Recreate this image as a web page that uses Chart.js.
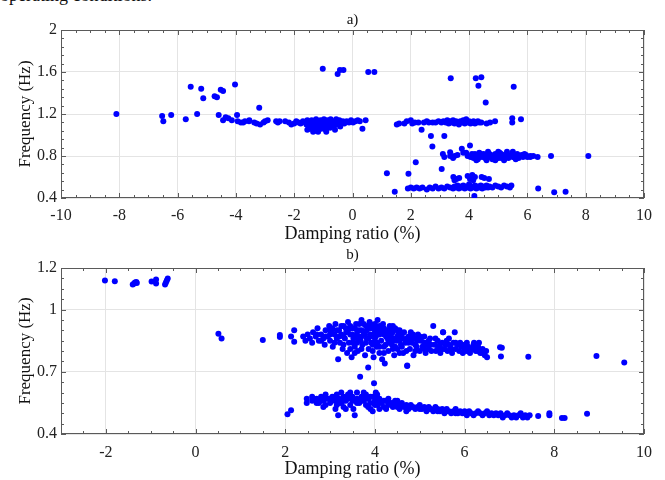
<!DOCTYPE html>
<html lang="en">
<head>
  <meta charset="UTF-8">
  <title>Damping ratio vs frequency</title>
  <script src="https://cdn.jsdelivr.net/npm/chart.js"></script>
  <style>
    body { margin: 0; background: #fff; font-family: "Liberation Serif", serif; }
    #wrap { position: relative; width: 665px; height: 480px; overflow: hidden; }
    #wrap canvas { position: absolute; left: 0; }
    #caption { position: absolute; left: 0; top: -14px; font-size: 18px; line-height: 18px; color: #111; white-space: nowrap; }
  </style>
</head>
<body>
  <div id="wrap">
    <div id="caption">operating conditions.</div>
    <canvas id="chartA" width="665" height="245" style="top:0"></canvas>
    <canvas id="chartB" width="665" height="235" style="top:245px"></canvas>
  </div>

  <script>
    // tick labels
    const xTicksA = [-10, -8, -6, -4, -2, 0, 2, 4, 6, 8, 10];
    const yTicksA = [0.4, 0.8, 1.2, 1.6, 2];
    const xTicksB = [-2, 0, 2, 4, 6, 8, 10];
    const yTicksB = [0.4, 0.7, 1, 1.2];

    // ---- panel a) : [damping %, frequency Hz]
    const ptsA_left = [
      [-8.1,1.20],[-6.53,1.18],[-6.49,1.13],[-6.22,1.19],[-5.72,1.15],[-5.55,1.46],[-5.33,1.20],
      [-5.19,1.44],[-5.12,1.35],[-4.73,1.37],[-4.65,1.36],[-4.59,1.19],[-4.52,1.43],[-4.44,1.42],
      [-4.44,1.14],[-4.35,1.17],[-4.26,1.16],[-4.14,1.14],[-4.03,1.48],[-3.96,1.19],[-3.94,1.13],
      [-3.83,1.12],[-3.75,1.12],[-3.54,1.14],[-3.37,1.12],[-3.2,1.26]
    ];
    const ptsA_band112 = [
      [-3.69,1.13],[-3.55,1.13],[-3.29,1.11],[-3.17,1.10],[-3.05,1.12],[-3.0,1.13],[-2.91,1.14],
      [-2.62,1.13],[-2.56,1.12],[-2.5,1.13],[-2.31,1.13],[-2.18,1.12],[-2.1,1.10],[-2.0,1.11],
      [-1.93,1.13],[-1.85,1.12],[-1.78,1.11],[-1.7,1.13],
      [-1.62,1.12],[-1.58,1.10],[-1.55,1.14],[-1.5,1.08],[-1.48,1.12],[-1.45,1.06],[-1.42,1.10],
      [-1.4,1.14],[-1.36,1.12],[-1.33,1.05],[-1.3,1.09],[-1.28,1.13],[-1.25,1.15],[-1.22,1.11],
      [-1.2,1.07],[-1.18,1.03],[-1.15,1.12],[-1.12,1.09],[-1.1,1.14],[-1.07,1.06],[-1.05,1.11],
      [-1.02,1.13],[-1.0,1.08],[-0.98,1.15],[-0.95,1.10],[-0.92,1.05],[-0.9,1.12],[-0.87,1.14],
      [-0.85,1.08],[-0.82,1.11],[-0.8,1.13],[-0.77,1.07],[-0.75,1.15],[-0.72,1.10],[-0.7,1.12],
      [-0.66,1.09],[-0.63,1.13],[-0.6,1.11],[-0.56,1.15],[-0.53,1.10],[-0.5,1.12],[-0.45,1.14],
      [-0.42,1.08],[-0.38,1.12],[-0.33,1.13],[-0.28,1.11],[-0.2,1.13],[-0.12,1.12],[-0.05,1.14],
      [0.02,1.12],[0.1,1.13],[0.18,1.14],[0.25,1.13],[0.34,1.06],[0.45,1.14],
      [-1.35,1.03],[-1.25,1.04],[-0.9,1.03],[-0.6,1.05],[-1.55,1.05]
    ];
    const ptsA_top = [
      [-1.02,1.63],[-0.51,1.58],[-0.43,1.62],[-0.31,1.62],[0.54,1.6],[0.75,1.6],[3.37,1.54],
      [4.23,1.54],[4.42,1.55],[4.32,1.47],[5.53,1.46],[4.57,1.31]
    ];
    const ptsA_right112 = [
      [1.52,1.10],[1.6,1.11],[1.78,1.11],[1.86,1.13],[2.0,1.14],[2.05,1.11],[2.14,1.12],[2.26,1.12],
      [2.37,1.05],[2.45,1.12],[2.55,1.13],[2.62,1.12],[2.69,0.99],[2.75,1.12],[2.85,1.12],[2.95,1.13],
      [3.05,1.12],[3.15,0.99],[3.12,1.13],[3.2,1.12],[3.25,1.14],[3.3,1.11],[3.35,1.13],[3.4,1.12],
      [3.45,1.14],[3.5,1.11],[3.55,1.13],[3.6,1.12],[3.65,1.10],[3.7,1.13],[3.75,1.12],[3.8,1.14],
      [3.85,1.11],[3.9,1.15],[3.95,1.12],[4.0,1.13],[4.05,1.11],[4.1,1.12],[4.15,1.13],[4.2,1.11],
      [4.25,1.12],[4.3,1.13],[4.35,1.12],[4.42,1.12],[4.6,1.11],[4.72,1.12],[4.89,1.13],
      [5.48,1.16],[5.48,1.12],[5.78,1.15]
    ];
    const ptsA_band080 = [
      [2.74,0.89],[3.06,0.676],[3.1,0.82],[3.15,0.79],[3.35,0.835],[3.35,0.80],[3.5,0.80],[3.6,0.81],
      [3.75,0.87],[3.8,0.83],[3.95,0.80],[4.03,0.90],[4.05,0.79],[4.1,0.82],[4.15,0.78],[4.2,0.80],
      [4.25,0.81],[4.3,0.77],[4.35,0.83],[4.4,0.79],[4.45,0.80],[4.5,0.82],[4.55,0.78],[4.6,0.80],
      [4.65,0.84],[4.7,0.79],[4.75,0.81],[4.8,0.77],[4.85,0.80],[4.9,0.82],[4.95,0.79],[5.0,0.80],
      [5.05,0.83],[5.1,0.78],[5.15,0.81],[5.2,0.79],[5.25,0.80],[5.3,0.82],[5.35,0.78],[5.4,0.80],
      [5.45,0.81],[5.5,0.84],[5.55,0.79],[5.6,0.80],[5.65,0.82],[5.7,0.78],[5.75,0.80],[5.8,0.81],
      [5.85,0.79],[5.9,0.80],[5.95,0.81],[6.0,0.79],[6.1,0.80],[6.2,0.80],[6.35,0.79],[6.81,0.80],
      [8.09,0.80],[4.6,0.76],[4.9,0.76],[5.2,0.76],[5.6,0.77],[4.25,0.76],[5.0,0.84],[5.3,0.84],
      [4.2,0.82],[4.4,0.82],[4.5,0.79],[4.7,0.82],[4.8,0.80],[5.0,0.78],[5.1,0.82],[5.3,0.80],
      [5.5,0.79],[5.7,0.80],[5.9,0.82],[6.1,0.79],[3.45,0.78],[3.9,0.83]
    ];
    const ptsA_band060 = [
      [3.46,0.60],[3.57,0.58],[3.66,0.59],[3.95,0.61],[4.03,0.58],[4.11,0.62],[4.14,0.57],
      [4.43,0.60],[4.52,0.59],[4.68,0.58],[3.5,0.57],[4.2,0.60]
    ];
    const ptsA_band050 = [
      [1.18,0.635],[1.45,0.46],[1.92,0.63],[2.17,0.74],[1.9,0.49],[2.0,0.50],[2.1,0.49],[2.2,0.50],
      [2.3,0.49],[2.4,0.50],[2.55,0.48],[2.65,0.50],[2.75,0.49],[2.85,0.51],[2.95,0.49],[3.05,0.50],
      [3.15,0.49],[3.25,0.51],[3.35,0.50],[3.45,0.49],[3.5,0.51],[3.55,0.50],[3.6,0.52],[3.65,0.49],
      [3.7,0.51],[3.75,0.50],[3.8,0.52],[3.85,0.49],[3.9,0.51],[3.95,0.50],[4.0,0.53],[4.05,0.49],
      [4.1,0.51],[4.15,0.50],[4.18,0.42],[4.2,0.52],[4.25,0.49],[4.3,0.51],[4.35,0.50],[4.4,0.52],
      [4.45,0.49],[4.5,0.51],[4.55,0.50],[4.6,0.52],[4.65,0.50],[4.7,0.51],[4.8,0.50],[4.9,0.52],
      [5.0,0.51],[5.1,0.50],[5.2,0.52],[5.3,0.51],[5.4,0.50],[5.45,0.52],[6.37,0.49],[6.92,0.455],
      [7.31,0.46]
    ];

    // ---- panel b)
    const ptsB_left = [
      [-2.02,1.14],[-1.80,1.136],[-1.40,1.12],[-1.37,1.125],[-1.35,1.13],[-1.32,1.132],[-1.31,1.128],
      [-0.98,1.135],[-0.88,1.145],[-0.88,1.125],[-0.68,1.12],[-0.66,1.13],[-0.64,1.14],[-0.62,1.15]
    ];
    const ptsB_mid = [
      [0.51,0.883],[0.58,0.86],[1.50,0.853],[1.88,0.877],[1.88,0.867],[2.13,0.87],[2.2,0.845],
      [2.2,0.9],[2.05,0.495],[2.13,0.514]
    ];
    const ptsB_upper = [
      [2.4,0.87],[2.45,0.85],[2.5,0.88],[2.55,0.86],[2.6,0.84],[2.62,0.89],[2.68,0.87],[2.72,0.91],
      [2.75,0.85],[2.8,0.88],[2.85,0.86],[2.88,0.83],[2.9,0.9],[2.95,0.87],[2.98,0.92],[3.0,0.85],
      [3.03,0.89],[3.06,0.82],[3.1,0.88],[3.12,0.93],[3.15,0.86],[3.18,0.76],[3.2,0.9],[3.22,0.84],
      [3.25,0.88],[3.28,0.81],[3.3,0.92],[3.33,0.86],[3.36,0.89],[3.38,0.79],[3.4,0.94],[3.42,0.84],
      [3.45,0.88],[3.48,0.77],[3.5,0.91],[3.52,0.86],[3.55,0.82],[3.58,0.93],[3.6,0.88],[3.62,0.8],
      [3.65,0.9],[3.68,0.85],[3.7,0.95],[3.72,0.83],[3.75,0.89],[3.78,0.78],[3.8,0.92],[3.82,0.86],
      [3.85,0.72],[3.86,0.81],[3.88,0.94],[3.9,0.88],[3.92,0.84],[3.95,0.91],[3.97,0.77],[4.0,0.93],
      [4.02,0.87],[4.04,0.82],[4.06,0.95],[4.08,0.89],[4.1,0.79],[4.12,0.91],[4.14,0.85],[4.16,0.76],
      [4.18,0.93],[4.2,0.88],[4.22,0.74],[4.24,0.83],[4.26,0.9],[4.28,0.86],[4.3,0.8],[4.33,0.92],
      [4.36,0.87],[4.38,0.83],[4.4,0.89],[4.43,0.78],[4.45,0.91],[4.48,0.85],[4.5,0.81],[4.53,0.88],
      [4.55,0.9],[4.58,0.83],[4.6,0.86],[4.63,0.79],[4.65,0.89],[4.68,0.84],[4.72,0.73],[4.75,0.87],
      [4.78,0.81],[4.8,0.89],[4.83,0.84],[4.86,0.78],[4.9,0.86],[4.93,0.82],[4.96,0.88],[5.0,0.8],
      [5.03,0.85],[5.06,0.82],[5.1,0.87],[5.13,0.79],[5.16,0.84],[5.2,0.81],[5.23,0.86],[5.26,0.8],
      [5.3,0.92],[5.33,0.83],[5.36,0.8],[5.4,0.85],[5.43,0.82],[5.46,0.79],[5.5,0.84],[5.52,0.89],
      [5.55,0.81],[5.58,0.83],[5.62,0.8],[5.65,0.86],[5.68,0.82],[5.72,0.79],[5.75,0.84],[5.78,0.89],
      [5.8,0.81],[5.84,0.83],[5.88,0.8],[5.92,0.82],[5.96,0.79],[6.0,0.83],[6.04,0.8],[6.08,0.82],
      [6.12,0.79],[6.16,0.81],[6.2,0.83],[6.21,0.84],[6.25,0.8],[6.3,0.82],[6.32,0.84],[6.35,0.79],
      [6.4,0.81],[6.45,0.78],[6.48,0.8],[6.5,0.77]
    ];
    const ptsB_upperFill = [
      [3.3,0.87],[3.5,0.84],[3.6,0.9],[3.7,0.87],[3.8,0.84],[3.9,0.91],[4.0,0.85],[4.1,0.88],
      [4.2,0.82],[4.3,0.88],[4.4,0.85],[4.5,0.87],[3.1,0.84],[3.0,0.9],[3.4,0.9],[3.75,0.93],
      [4.05,0.91],[4.35,0.9],[4.6,0.82],[4.9,0.83],[5.15,0.83],[5.45,0.83],[5.7,0.81],[6.0,0.81],
      [6.3,0.8],[3.55,0.79],[3.95,0.8],[4.45,0.82],
      [2.7,0.88],[2.8,0.85],[2.9,0.87],[3.0,0.88],[3.05,0.91],[3.15,0.9],[3.2,0.87],[3.25,0.92],
      [3.35,0.91],[3.45,0.92],[3.5,0.88],[3.55,0.91],[3.62,0.86],[3.65,0.93],[3.7,0.9],[3.78,0.88],
      [3.82,0.9],[3.85,0.86],[3.9,0.93],[3.95,0.87],[4.0,0.89],[4.05,0.84],[4.1,0.92],[4.15,0.9],
      [4.2,0.91],[4.25,0.87],[4.3,0.84],[4.35,0.85],[4.4,0.92],[4.45,0.86],[4.5,0.9],[4.55,0.85],
      [4.6,0.88],[4.7,0.86],[4.75,0.84],[4.8,0.86],[4.85,0.88],[4.95,0.85],[5.0,0.87],[5.1,0.84],
      [5.2,0.85],[5.25,0.83],[5.35,0.86],[5.4,0.81],[5.5,0.81],[5.6,0.85],[5.65,0.83],[5.8,0.84],
      [5.9,0.84],[6.05,0.84],[6.1,0.8],[6.2,0.81],[6.4,0.79],[3.3,0.83],[3.45,0.81],[3.6,0.84],
      [3.7,0.81],[3.95,0.83],[4.1,0.82],[4.2,0.79],[4.4,0.81],[4.55,0.79],[4.7,0.8],[4.9,0.8],
      [5.1,0.81]
    ];
    const ptsB_lower = [
      [2.48,0.57],[2.48,0.55],[2.6,0.56],[2.7,0.57],[2.75,0.55],[2.8,0.58],[2.85,0.56],[2.9,0.59],
      [2.95,0.57],[3.0,0.55],[3.05,0.58],[3.1,0.56],[3.12,0.52],[3.15,0.59],[3.2,0.57],[3.25,0.55],
      [3.3,0.58],[3.35,0.56],[3.4,0.57],[3.45,0.54],[3.5,0.58],[3.52,0.52],[3.55,0.56],[3.6,0.57],
      [3.65,0.55],[3.7,0.58],[3.75,0.56],[3.8,0.54],[3.85,0.57],[3.9,0.55],[3.95,0.58],[4.0,0.56],
      [4.02,0.6],[4.05,0.54],[4.1,0.57],[4.15,0.55],[4.2,0.53],[4.25,0.56],[4.3,0.54],[4.35,0.55],
      [4.4,0.53],[4.45,0.56],[4.5,0.54],[4.55,0.52],[4.6,0.55],[4.65,0.53],[4.7,0.54],[4.75,0.52],
      [4.8,0.54],[4.85,0.53],[4.9,0.52],[4.95,0.53],[5.0,0.54],[5.05,0.52],[5.1,0.53],[5.15,0.51],
      [5.2,0.53],[5.25,0.52],[5.3,0.51],[5.35,0.53],[5.4,0.52],[5.45,0.51],[5.5,0.52],[5.55,0.5],
      [5.6,0.52],[5.65,0.51],[5.7,0.5],[5.75,0.51],[5.8,0.52],[5.85,0.5],[5.9,0.51],[5.95,0.5],
      [6.0,0.51],[6.05,0.49],[6.1,0.51],[6.15,0.5],[6.2,0.49],[6.25,0.5],[6.3,0.51],[6.35,0.5],
      [6.4,0.49],[6.45,0.5],[6.5,0.51],[6.55,0.49],[6.6,0.5],[6.65,0.49],[6.7,0.5],[6.75,0.49],
      [6.8,0.5],[6.85,0.48],[6.9,0.49],[6.95,0.5],[7.0,0.49],[7.05,0.48],[7.1,0.49],[7.15,0.48],
      [7.2,0.49],[7.25,0.5],[7.3,0.48],[7.35,0.49],[7.4,0.48],[7.45,0.49],[7.64,0.487],[7.89,0.5],
      [7.89,0.49],[8.17,0.477],[8.23,0.477],[8.73,0.498],
      [2.9,0.54],[3.3,0.53],[3.6,0.6],[3.8,0.59],[3.9,0.52],[4.0,0.58],[4.1,0.52],[4.3,0.57],
      [4.5,0.56],[4.7,0.51],[3.15,0.54],[3.45,0.6],[3.18,0.49],[3.55,0.49],[3.95,0.51],
      [2.6,0.58],[2.7,0.55],[2.8,0.56],[2.9,0.57],[3.0,0.57],[3.1,0.58],[3.2,0.55],[3.3,0.56],
      [3.4,0.59],[3.5,0.56],[3.6,0.55],[3.7,0.56],[3.8,0.57],[3.9,0.58],[4.0,0.54],[4.1,0.55],
      [4.2,0.56],[4.3,0.55],[4.4,0.55],[4.5,0.53],[4.6,0.54],[4.8,0.53],[5.0,0.52],[5.2,0.52],
      [5.4,0.51],[5.6,0.51],[5.8,0.5],[6.0,0.5],[3.25,0.6],[3.75,0.6],[4.05,0.59],[2.85,0.53],
      [3.35,0.52],[3.85,0.53],[4.25,0.52]
    ];
    const ptsB_outliers = [
      [3.67,0.676],[3.98,0.644],[4.72,0.728],[6.79,0.818],[6.81,0.773],[6.83,0.816],[7.42,0.772],
      [8.94,0.776],[9.56,0.744],[5.52,0.89]
    ];

    const serif = "'Liberation Serif', 'Times New Roman', serif";
    const dotColor = '#0000ff';

    function toXY(list) {
      return list.map(p => ({ x: p[0], y: p[1] }));
    }

    // box + inward major/minor ticks like the original figure, panel label over the axes
    const boxTicks = {
      id: 'boxTicks',
      beforeDatasetsDraw(chart, args, opts) {
        const { ctx, chartArea: a, scales: { x, y } } = chart;
        ctx.save();
        ctx.strokeStyle = '#5a5a5a';
        ctx.lineWidth = 1;
        ctx.beginPath();
        const nx = Math.round((x.max - x.min) / opts.xMinor);
        for (let i = 0; i <= nx; i++) {
          const v = x.min + i * opts.xMinor;
          const px = Math.round(x.getPixelForValue(v)) + 0.5;
          const major = opts.xMajor.some(t => Math.abs(t - v) < 1e-6);
          const len = major ? 5 : 3;
          ctx.moveTo(px, a.bottom); ctx.lineTo(px, a.bottom - len);
          ctx.moveTo(px, a.top); ctx.lineTo(px, a.top + len);
        }
        const ny = Math.round((y.max - y.min) / opts.yMinor);
        for (let i = 0; i <= ny; i++) {
          const v = y.min + i * opts.yMinor;
          const py = Math.round(y.getPixelForValue(v)) + 0.5;
          const major = opts.yMajor.some(t => Math.abs(t - v) < 1e-6);
          const len = major ? 5 : 3;
          ctx.moveTo(a.left, py); ctx.lineTo(a.left + len, py);
          ctx.moveTo(a.right, py); ctx.lineTo(a.right - len, py);
        }
        ctx.stroke();
        ctx.strokeRect(Math.round(a.left) + 0.5, Math.round(a.top) + 0.5,
          Math.round(a.width) - 1, Math.round(a.height) - 1);

        // panel label, centred over the plot box
        ctx.fillStyle = '#111';
        ctx.font = '15px ' + serif;
        ctx.textAlign = 'center';
        ctx.textBaseline = 'middle';
        ctx.fillText(opts.label, (a.left + a.right) / 2, opts.labelY);
        ctx.restore();
      }
    };

    function makeChart(id, label, labelY, datasets, xr, yr, xTicks, yTicks, minor, layoutPad, xPad, xBoxH) {
      const ctx = document.getElementById(id).getContext('2d');
      return new Chart(ctx, {
        type: 'scatter',
        data: {
          datasets: datasets.map(d => ({
            data: toXY(d),
            backgroundColor: dotColor,
            borderColor: dotColor,
            borderWidth: 0,
            pointRadius: 3,
            pointHoverRadius: 3
          }))
        },
        options: {
          responsive: false,
          animation: false,
          devicePixelRatio: 1,
          layout: { padding: layoutPad },
          scales: {
            x: {
              type: 'linear',
              min: xr[0], max: xr[1],
              afterBuildTicks: s => { s.ticks = xTicks.map(v => ({ value: v })); },
              afterFit: s => { s.height = xBoxH; },
              grid: { color: '#e4e4e4', drawTicks: false },
              border: { display: false },
              ticks: {
                padding: xPad,
                color: '#222',
                font: { family: serif, size: 16 },
                maxRotation: 0,
                callback: v => String(+Number(v).toFixed(2))
              },
              title: {
                display: true,
                text: 'Damping ratio (%)',
                color: '#111',
                font: { family: serif, size: 18 },
                padding: 0
              }
            },
            y: {
              type: 'linear',
              min: yr[0], max: yr[1],
              afterBuildTicks: s => { s.ticks = yTicks.map(v => ({ value: v })); },
              afterFit: s => { s.width = 46; },
              grid: { color: '#e4e4e4', drawTicks: false },
              border: { display: false },
              ticks: {
                padding: 4,
                color: '#222',
                font: { family: serif, size: 16 },
                callback: v => String(+Number(v).toFixed(2))
              },
              title: {
                display: true,
                text: 'Frequency (Hz)',
                color: '#111',
                font: { family: serif, size: 17 },
                padding: 0
              }
            }
          },
          plugins: {
            legend: { display: false },
            tooltip: { enabled: false },
            title: { display: false },
            boxTicks: { xMinor: minor[0], yMinor: minor[1], xMajor: xTicks, yMajor: yTicks, label: label, labelY: labelY }
          }
        },
        plugins: [boxTicks]
      });
    }

    makeChart('chartA', 'a)', 20,
      [ptsA_left, ptsA_band112, ptsA_top, ptsA_right112, ptsA_band080, ptsA_band060, ptsA_band050],
      [-10, 10], [0.4, 2], xTicksA, yTicksA, [0.5, 0.08],
      { left: 15, right: 21, top: 30, bottom: 0 }, 8, 47);

    makeChart('chartB', 'b)', 10,
      [ptsB_left, ptsB_mid, ptsB_upper, ptsB_upperFill, ptsB_lower, ptsB_outliers],
      [-3, 10], [0.4, 1.2], xTicksB, yTicksB, [0.5, 0.05],
      { left: 15, right: 21, top: 23, bottom: 0 }, 9, 46);
  </script>
</body>
</html>
